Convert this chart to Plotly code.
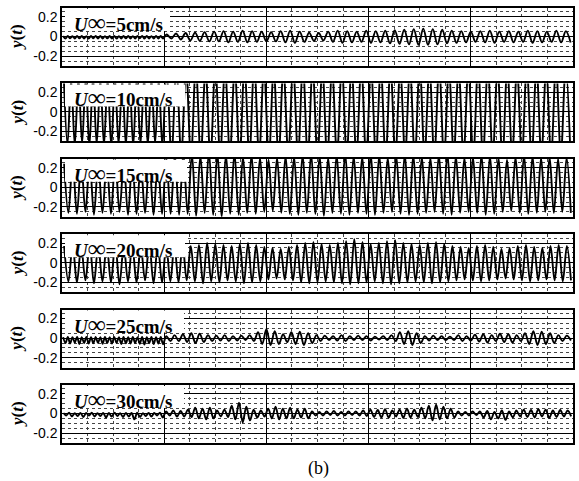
import numpy as np
import plotly.graph_objects as go
from plotly.subplots import make_subplots

# ---------------- data (extrema) ----------------
labels = ["5", "10", "15", "20", "25", "30"]
t_split = 20      # end of the first major division (time units)
t_end = 100

# U=5 cm/s
u5_a = [0.004, -0.020, 0.005, -0.018, 0.004, -0.021, 0.005, -0.019, 0.006, -0.020, 0.004,
        -0.022, 0.005, -0.018, 0.006, -0.020, 0.005, -0.021, 0.004, -0.019, 0.006, -0.020,
        0.005, -0.022, 0.004, -0.020, 0.006, -0.019, 0.005, -0.021, 0.004, -0.020, 0.005,
        -0.018, 0.006, -0.022, 0.005, -0.020, 0.004, -0.021, 0.005, -0.020, 0.006, -0.020]
u5_b_pk = [0.020, 0.030, 0.035, 0.040, 0.045, 0.050, 0.055, 0.050, 0.060, 0.055, 0.050,
           0.045, 0.055, 0.060, 0.050, 0.040, 0.035, 0.050, 0.060, 0.055, 0.050, 0.060,
           0.055, 0.060, 0.065, 0.070, 0.075, 0.080, 0.075, 0.070, 0.060, 0.055, 0.050,
           0.055, 0.060, 0.050, 0.055, 0.050, 0.060, 0.055, 0.050, 0.060, 0.055]
u5_b_tr = [-0.020, -0.030, -0.040, -0.045, -0.050, -0.050, -0.060, -0.055, -0.060, -0.055,
           -0.050, -0.050, -0.060, -0.065, -0.055, -0.045, -0.040, -0.055, -0.065, -0.060,
           -0.055, -0.065, -0.060, -0.070, -0.075, -0.080, -0.085, -0.085, -0.080, -0.070,
           -0.065, -0.060, -0.055, -0.060, -0.065, -0.055, -0.060, -0.055, -0.065, -0.060,
           -0.055, -0.060, -0.060]

# U=10 cm/s
u10_a_pk = [0.34, 0.33, 0.35, 0.34, 0.36, 0.33, 0.34, 0.35, 0.33, 0.34, 0.36, 0.35, 0.34, 0.33]
u10_a_tr = [-0.33, -0.34, -0.32, -0.35, -0.33, -0.34, -0.36, -0.33, -0.34, -0.35, -0.33,
            -0.34, -0.32, -0.35]
u10_b_pk = [0.44, 0.46, 0.45, 0.47, 0.44, 0.48, 0.46, 0.45, 0.47, 0.49, 0.46, 0.44, 0.45,
            0.47, 0.48, 0.46, 0.45, 0.44, 0.47, 0.46, 0.48, 0.45, 0.46, 0.47, 0.44, 0.45,
            0.48, 0.46, 0.47, 0.45, 0.44, 0.46, 0.48, 0.47, 0.45, 0.46, 0.44, 0.47, 0.46,
            0.45, 0.48, 0.46]
u10_b_tr = [-0.45, -0.44, -0.47, -0.46, -0.48, -0.45, -0.44, -0.47, -0.46, -0.45, -0.48,
            -0.46, -0.44, -0.45, -0.47, -0.46, -0.48, -0.45, -0.44, -0.46, -0.47, -0.45,
            -0.48, -0.46, -0.44, -0.47, -0.45, -0.46, -0.48, -0.44, -0.45, -0.47, -0.46,
            -0.45, -0.48, -0.44, -0.46, -0.47, -0.45, -0.46, -0.44, -0.47]

# U=15 cm/s
u15_a_pk = [0.24, 0.26, 0.25, 0.27, 0.24, 0.26, 0.28, 0.25, 0.26, 0.24, 0.27, 0.26]
u15_a_tr = [-0.26, -0.27, -0.25, -0.28, -0.26, -0.27, -0.25, -0.28, -0.27, -0.26, -0.28, -0.27]
u15_b_pk = [0.30, 0.33, 0.35, 0.34, 0.32, 0.36, 0.34, 0.33, 0.35, 0.31, 0.33, 0.30,
            0.28, 0.30, 0.32, 0.31, 0.33, 0.34, 0.32, 0.30, 0.33, 0.35, 0.32, 0.31,
            0.34, 0.33, 0.30, 0.32, 0.34, 0.33, 0.31, 0.30, 0.33, 0.35, 0.32, 0.30,
            0.31, 0.33, 0.32, 0.30, 0.28, 0.31, 0.33, 0.32, 0.30, 0.31, 0.29, 0.30]
u15_b_tr = [-0.27, -0.28, -0.27, -0.29, -0.26, -0.28, -0.30, -0.27, -0.28, -0.26, -0.27,
            -0.25, -0.24, -0.26, -0.27, -0.28, -0.26, -0.27, -0.29, -0.26, -0.27, -0.28,
            -0.26, -0.27, -0.28, -0.26, -0.25, -0.27, -0.28, -0.27, -0.26, -0.25, -0.27,
            -0.28, -0.26, -0.25, -0.26, -0.28, -0.27, -0.25, -0.24, -0.26, -0.27, -0.26,
            -0.25, -0.26, -0.25, -0.26]

# U=20 cm/s
u20_a_pk = [0.17, 0.18, 0.16, 0.19, 0.17, 0.18, 0.20, 0.17, 0.18, 0.16, 0.19, 0.18]
u20_a_tr = [-0.19, -0.20, -0.18, -0.21, -0.19, -0.20, -0.22, -0.19, -0.20, -0.18, -0.21, -0.20]
u20_b_pk = [0.17, 0.18, 0.19, 0.17, 0.18, 0.20, 0.19, 0.18, 0.17, 0.19, 0.20, 0.18,
            0.16, 0.15, 0.14, 0.16, 0.18, 0.20, 0.21, 0.19, 0.18, 0.20, 0.22, 0.24,
            0.21, 0.19, 0.20, 0.22, 0.23, 0.20, 0.19, 0.18, 0.20, 0.21, 0.19, 0.17,
            0.16, 0.15, 0.17, 0.18, 0.16, 0.14, 0.15, 0.17, 0.18, 0.16, 0.15, 0.17,
            0.18, 0.17]
u20_b_tr = [-0.19, -0.20, -0.18, -0.19, -0.21, -0.19, -0.20, -0.18, -0.19, -0.21, -0.20,
            -0.19, -0.17, -0.16, -0.17, -0.18, -0.20, -0.21, -0.20, -0.19, -0.20, -0.21,
            -0.22, -0.21, -0.20, -0.19, -0.21, -0.22, -0.21, -0.20, -0.19, -0.20, -0.21,
            -0.20, -0.19, -0.18, -0.17, -0.18, -0.19, -0.18, -0.17, -0.16, -0.17, -0.18,
            -0.19, -0.18, -0.17, -0.18, -0.19, -0.18]

# U=25 cm/s
u25_a = [0.010, -0.050, 0.012, -0.055, 0.010, -0.045, 0.011, -0.060, 0.010, -0.050, 0.012,
         -0.055, 0.010, -0.052, 0.011, -0.048, 0.010, -0.058, 0.012, -0.050, 0.010, -0.055,
         0.011, -0.048, 0.010, -0.060, 0.012, -0.052, 0.010, -0.055, 0.011, -0.050, 0.010,
         -0.058, 0.012, -0.065, 0.010, -0.052, 0.011, -0.060, 0.010, -0.055, 0.012, -0.062]
u25_b_pk = [0.020, 0.030, 0.040, 0.050, 0.045, 0.030, 0.025, 0.030, 0.020, 0.025, 0.030,
            0.060, 0.090, 0.070, 0.040, 0.060, 0.065, 0.050, 0.030, 0.025, 0.020, 0.030,
            0.020, 0.025, 0.020, 0.015, 0.020, 0.030, 0.060, 0.070, 0.050, 0.020, 0.025,
            0.020, 0.015, 0.030, 0.020, 0.035, 0.040, 0.030, 0.045, 0.040, 0.030, 0.050,
            0.070, 0.065, 0.050, 0.030, 0.025]
u25_b_tr = [-0.030, -0.030, -0.040, -0.050, -0.040, -0.030, -0.025, -0.030, -0.025, -0.020,
            -0.030, -0.060, -0.070, -0.060, -0.040, -0.060, -0.070, -0.050, -0.030, -0.020,
            -0.025, -0.030, -0.020, -0.020, -0.025, -0.015, -0.020, -0.030, -0.060, -0.070,
            -0.050, -0.025, -0.020, -0.020, -0.020, -0.030, -0.025, -0.035, -0.045, -0.030,
            -0.040, -0.045, -0.030, -0.060, -0.070, -0.060, -0.050, -0.030, -0.025]

# U=30 cm/s
u30_a = [0.005, -0.020, 0.008, -0.030, 0.004, -0.025, 0.006, -0.035, 0.005, -0.020, 0.007,
         -0.030, 0.004, -0.025, 0.006, -0.040, 0.005, -0.030, 0.008, -0.025, 0.004, -0.035,
         0.006, -0.030, 0.005, -0.060, 0.007, -0.035, 0.004, -0.025, 0.006, -0.030, 0.005,
         -0.020, 0.008, -0.040]
u30_b_pk = [0.020, 0.030, 0.025, 0.040, 0.060, 0.050, 0.060, 0.030, 0.040, 0.080, 0.110,
            0.070, 0.040, 0.030, 0.050, 0.070, 0.050, 0.060, 0.040, 0.050, 0.020, 0.015,
            0.020, 0.025, 0.015, 0.020, 0.020, 0.030, 0.040, 0.035, 0.045, 0.030, 0.040,
            0.050, 0.040, 0.060, 0.080, 0.090, 0.070, 0.050, 0.020, 0.015, 0.020, 0.020,
            0.025, 0.015, 0.030, 0.020, 0.030, 0.040, 0.035, 0.045, 0.040, 0.030, 0.035,
            0.030]
u30_b_tr = [-0.020, -0.030, -0.030, -0.035, -0.050, -0.060, -0.050, -0.030, -0.035, -0.060,
            -0.090, -0.070, -0.040, -0.030, -0.050, -0.060, -0.050, -0.050, -0.040, -0.050,
            -0.020, -0.020, -0.015, -0.020, -0.020, -0.015, -0.020, -0.025, -0.035, -0.040,
            -0.040, -0.030, -0.045, -0.040, -0.035, -0.050, -0.070, -0.060, -0.050, -0.040,
            -0.020, -0.020, -0.015, -0.040, -0.060, -0.050, -0.065, -0.040, -0.030, -0.035,
            -0.040, -0.030, -0.045, -0.035, -0.030, -0.030]


def interleave(pk, tr):
    return [v for pair in zip(pk, tr) for v in pair]


def segment(t0, t1, vals):
    n = len(vals)
    step = (t1 - t0) / n
    return [t0 + (i + 0.5) * step for i in range(n)], list(vals)


def series(first, second):
    ta, ya = segment(0, t_split, first)
    tb, yb = segment(t_split, t_end, second)
    return ta + tb, ya + yb


signals = [
    series(u5_a, interleave(u5_b_pk, u5_b_tr)),
    series(interleave(u10_a_pk, u10_a_tr), interleave(u10_b_pk, u10_b_tr)),
    series(interleave(u15_a_pk, u15_a_tr), interleave(u15_b_pk, u15_b_tr)),
    series(interleave(u20_a_pk, u20_a_tr), interleave(u20_b_pk, u20_b_tr)),
    series(u25_a, interleave(u25_b_pk, u25_b_tr)),
    series(u30_a, interleave(u30_b_pk, u30_b_tr)),
]

y_ticks = [-0.2, 0, 0.2]
y_tick_text = ["-0.2", "0", "0.2"]

# ---------------- style / layout constants ----------------
SERIF = "Liberation Serif, Times New Roman, serif"
PLOT_W = 511.0          # plot width in px
PANEL_H = 58.0          # panel height in px
label_box_right_px = [108, 123, 125, 123, 122, 122]   # white box right edge, px from axis left

# ---------------- figure ----------------
fig = make_subplots(rows=6, cols=1, vertical_spacing=0.04)

for i, (t, y) in enumerate(signals):
    r = i + 1
    fig.add_trace(go.Scatter(x=t, y=y, mode="lines",
                             line=dict(color="black", width=1.9, shape="spline", smoothing=1),
                             showlegend=False, hoverinfo="skip"), row=r, col=1)
    fig.update_xaxes(range=[0, t_end], dtick=20, tick0=0, showticklabels=False,
                     showgrid=True, gridcolor="black", gridwidth=1,
                     minor=dict(dtick=5, tick0=0, showgrid=True, gridcolor="#444444",
                                griddash="dot", gridwidth=1),
                     showline=True, mirror=True, linecolor="black", linewidth=1.5,
                     ticks="", zeroline=False, automargin=False, row=r, col=1)
    fig.update_yaxes(range=[-0.3, 0.29], tickvals=y_ticks, ticktext=y_tick_text,
                     showgrid=True, gridcolor="black", gridwidth=1,
                     minor=dict(dtick=0.05, tick0=0, showgrid=True, gridcolor="#444444",
                                griddash="dot", gridwidth=1),
                     showline=True, mirror=True, linecolor="black", linewidth=1.5,
                     ticks="", zeroline=False, automargin=False,
                     tickfont=dict(family="Liberation Sans, Arial", size=14, color="black"),
                     row=r, col=1)
    yref = "y" if r == 1 else f"y{r}"
    xref = "x" if r == 1 else f"x{r}"
    # white label box
    fig.add_shape(type="rect", xref=f"{xref} domain", yref=f"{yref} domain",
                  x0=3 / PLOT_W, x1=label_box_right_px[i] / PLOT_W,
                  y0=1 - 23 / PANEL_H, y1=1 - 1 / PANEL_H,
                  fillcolor="white", line=dict(width=0), layer="above")
    fig.add_annotation(text=(f"<b><i>U</i><span style='font-size:25px'>∞</span>"
                             f"={labels[i]}cm/s</b>"),
                       xref=f"{xref} domain", yref=f"{yref} domain",
                       x=10 / PLOT_W, y=1 - 14.5 / PANEL_H,
                       xanchor="left", yanchor="middle", showarrow=False,
                       font=dict(family=SERIF, size=19, color="black"))
    fig.add_annotation(text="<b><i>y</i>(<i>t</i>)</b>", textangle=-90,
                       xref="paper", yref=f"{yref} domain", x=-0.088, y=0.5,
                       xanchor="center", yanchor="middle", showarrow=False,
                       font=dict(family=SERIF, size=17, color="black"))

fig.add_annotation(text="(b)", xref="paper", yref="paper", x=0.501, y=-0.058,
                   xanchor="center", yanchor="middle", showarrow=False,
                   font=dict(family=SERIF, size=18, color="black"))

fig.update_layout(width=579, height=481, margin=dict(l=62, r=6, t=8, b=38),
                  paper_bgcolor="white", plot_bgcolor="white")

fig.write_html("out.html", config={"displayModeBar": False},
               post_script="document.body.style.margin='0px';")
